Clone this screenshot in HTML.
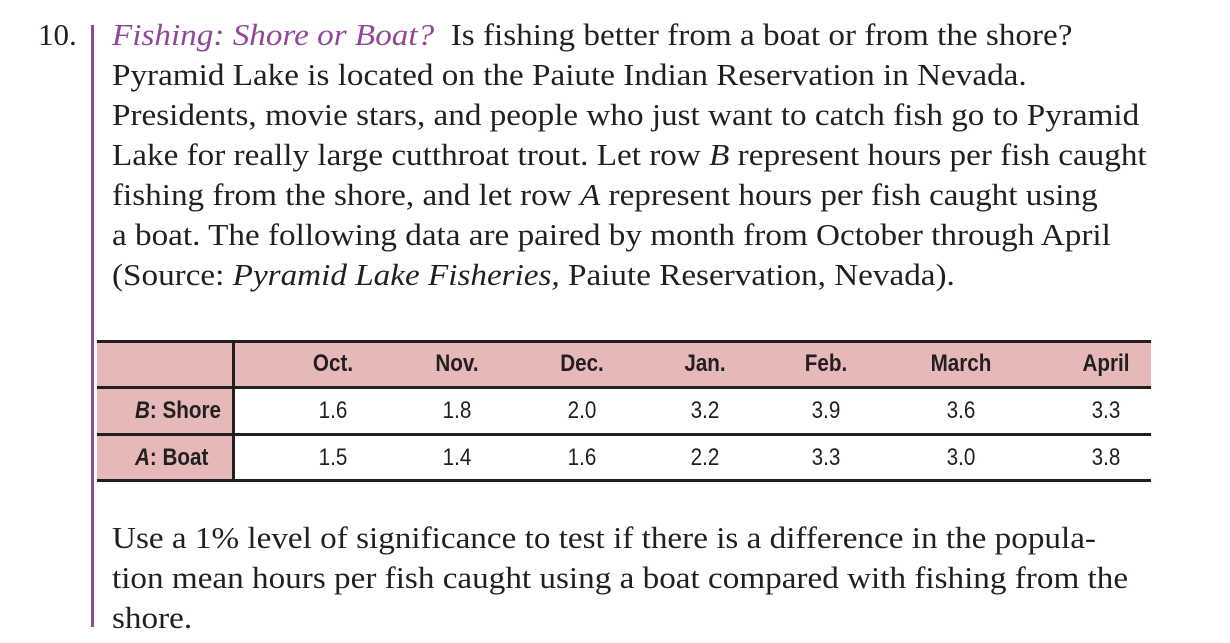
<!DOCTYPE html>
<html><head><meta charset="utf-8"><style>
body{margin:0;width:1230px;height:643px;background:#fff;position:relative;overflow:hidden;font-family:"Liberation Serif",serif;color:#231f20}
.l{position:absolute;left:112px;font-size:31px;line-height:40px;white-space:nowrap;transform:scaleX(1.07);transform-origin:left center}
.t{position:absolute;font-family:"Liberation Sans",sans-serif;font-size:24px;transform:scaleX(0.86);transform-origin:center;text-align:center;width:120px;line-height:46px}
.lab{position:absolute;font-family:"Liberation Sans",sans-serif;font-size:24px;font-weight:bold;transform:scaleX(0.86);transform-origin:left center;line-height:46px;left:135px;white-space:nowrap}
.hd{font-weight:bold}
.hl{position:absolute;left:97px;width:1054px;height:3px;background:#231f20}
</style></head><body>
<div style="position:absolute;left:38px;top:15px;font-size:31px;line-height:40px">10.</div>
<div style="position:absolute;left:91px;top:25px;width:3px;height:602px;background:#8e4a9e"></div>
<div>
<div class="l" style="top:15px"><i style="color:#93479a">Fishing: Shore or Boat?</i>&nbsp; Is fishing better from a boat or from the shore?</div>
<div class="l" style="top:55px">Pyramid Lake is located on the Paiute Indian Reservation in Nevada.</div>
<div class="l" style="top:95px">Presidents, movie stars, and people who just want to catch fish go to Pyramid</div>
<div class="l" style="top:135px">Lake for really large cutthroat trout. Let row <i>B</i> represent hours per fish caught</div>
<div class="l" style="top:175px">fishing from the shore, and let row <i>A</i> represent hours per fish caught using</div>
<div class="l" style="top:215px">a boat. The following data are paired by month from October through April</div>
<div class="l" style="top:255px">(Source: <i>Pyramid Lake Fisheries,</i> Paiute Reservation, Nevada).</div>
</div>
<div>
<div style="position:absolute;left:97px;top:341px;width:1054px;height:46px;background:#e6b8b8"></div>
<div style="position:absolute;left:97px;top:341px;width:136px;height:140px;background:#e6b8b8"></div>
<div class="hl" style="top:340px"></div>
<div class="hl" style="top:386px"></div>
<div class="hl" style="top:433px"></div>
<div class="hl" style="top:479px"></div>
<div style="position:absolute;left:232px;top:341px;width:3px;height:140px;background:#231f20"></div>
<div class="t hd" style="left:273px;top:341px">Oct.</div>
<div class="t hd" style="left:397px;top:341px">Nov.</div>
<div class="t hd" style="left:522px;top:341px">Dec.</div>
<div class="t hd" style="left:645px;top:341px">Jan.</div>
<div class="t hd" style="left:766px;top:341px">Feb.</div>
<div class="t hd" style="left:901px;top:341px">March</div>
<div class="t hd" style="left:1046px;top:341px">April</div>
<div class="lab" style="top:388px"><i>B</i>: Shore</div>
<div class="lab" style="top:435px"><i>A</i>: Boat</div>
<div class="t" style="left:273px;top:388px">1.6</div>
<div class="t" style="left:397px;top:388px">1.8</div>
<div class="t" style="left:522px;top:388px">2.0</div>
<div class="t" style="left:645px;top:388px">3.2</div>
<div class="t" style="left:766px;top:388px">3.9</div>
<div class="t" style="left:901px;top:388px">3.6</div>
<div class="t" style="left:1046px;top:388px">3.3</div>
<div class="t" style="left:273px;top:435px">1.5</div>
<div class="t" style="left:397px;top:435px">1.4</div>
<div class="t" style="left:522px;top:435px">1.6</div>
<div class="t" style="left:645px;top:435px">2.2</div>
<div class="t" style="left:766px;top:435px">3.3</div>
<div class="t" style="left:901px;top:435px">3.0</div>
<div class="t" style="left:1046px;top:435px">3.8</div>
</div>
<div>
<div class="l" style="top:518px">Use a 1% level of significance to test if there is a difference in the popula-</div>
<div class="l" style="top:558px">tion mean hours per fish caught using a boat compared with fishing from the</div>
<div class="l" style="top:598px">shore.</div>
</div>
</body></html>
